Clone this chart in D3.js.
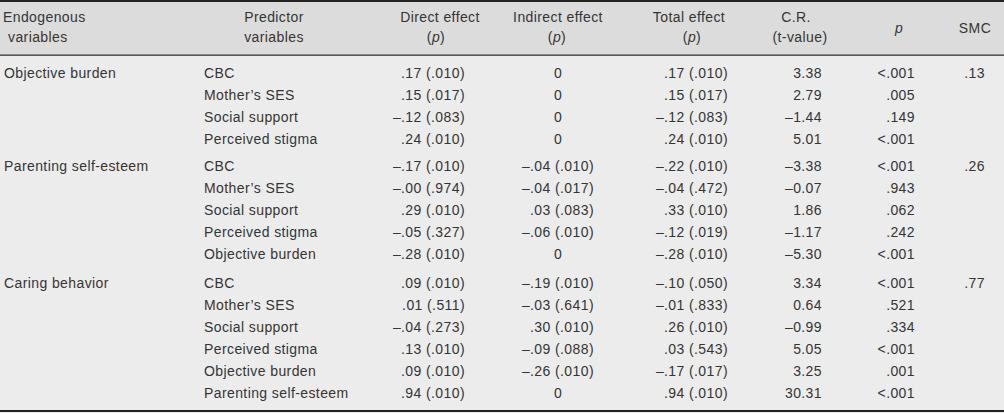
<!DOCTYPE html>
<html>
<head>
<meta charset="utf-8">
<script src="https://cdn.jsdelivr.net/npm/d3@7"></script>
<style>
  html, body { margin: 0; padding: 0; background: #ececec; }
  svg { display: block; }
  text { font-family: 'Liberation Sans', Arial, sans-serif; font-size: 14px; letter-spacing: 0.4px; fill: #353535; }
</style>
</head>
<body>
<svg id="chart" width="1004" height="413"></svg>
<script>
// ---- Data ----
const groups = ["Objective burden", "Parenting self-esteem", "Caring behavior"];
const groupOfRow = [0,0,0,0, 1,1,1,1,1, 2,2,2,2,2,2];
const predictors = [
  "CBC", "Mother’s SES", "Social support", "Perceived stigma",
  "CBC", "Mother’s SES", "Social support", "Perceived stigma", "Objective burden",
  "CBC", "Mother’s SES", "Social support", "Perceived stigma", "Objective burden", "Parenting self-esteem"
];
const directEffect = [
  ".17 (.010)", ".15 (.017)", "–.12 (.083)", ".24 (.010)",
  "–.17 (.010)", "–.00 (.974)", ".29 (.010)", "–.05 (.327)", "–.28 (.010)",
  ".09 (.010)", ".01 (.511)", "–.04 (.273)", ".13 (.010)", ".09 (.010)", ".94 (.010)"
];
const indirectEffect = [
  "0", "0", "0", "0",
  "–.04 (.010)", "–.04 (.017)", ".03 (.083)", "–.06 (.010)", "0",
  "–.19 (.010)", "–.03 (.641)", ".30 (.010)", "–.09 (.088)", "–.26 (.010)", "0"
];
const totalEffect = [
  ".17 (.010)", ".15 (.017)", "–.12 (.083)", ".24 (.010)",
  "–.22 (.010)", "–.04 (.472)", ".33 (.010)", "–.12 (.019)", "–.28 (.010)",
  "–.10 (.050)", "–.01 (.833)", ".26 (.010)", ".03 (.543)", "–.17 (.017)", ".94 (.010)"
];
const crValues = [
  "3.38", "2.79", "–1.44", "5.01",
  "–3.38", "–0.07", "1.86", "–1.17", "–5.30",
  "3.34", "0.64", "–0.99", "5.05", "3.25", "30.31"
];
const pValues = [
  "<.001", ".005", ".149", "<.001",
  "<.001", ".943", ".062", ".242", "<.001",
  "<.001", ".521", ".334", "<.001", ".001", "<.001"
];
const smcValues = [".13", ".26", ".77"];

// ---- Layout ----
const W = 1004, H = 413;
const svg = d3.select("#chart");

svg.append("rect").attr("x", 0).attr("y", 0).attr("width", W).attr("height", 55).attr("fill", "#dcdcdc");
svg.append("rect").attr("x", 0).attr("y", 55).attr("width", W).attr("height", H - 55).attr("fill", "#ececec");

svg.append("rect").attr("x", 0).attr("y", 0).attr("width", W).attr("height", 2).attr("fill", "#222");
svg.append("rect").attr("x", 0).attr("y", 54.5).attr("width", W).attr("height", 1.3).attr("fill", "#333");
svg.append("rect").attr("x", 0).attr("y", 410).attr("width", W).attr("height", 2).attr("fill", "#222");

// row scale
const rowStep = 22;
const groupOffset = [0, 5, 12];
const y = d3.scaleLinear().domain([0, 1]).range([73, 73 + rowStep]);
const rowY = i => y(i) + groupOffset[groupOfRow[i]];
const firstRowOfGroup = groups.map((g, gi) => groupOfRow.indexOf(gi));

const cols = [
  { key: "pred", x: 204, anchor: "start", data: predictors },
  { key: "direct", x: 465, anchor: "end", data: directEffect },
  { key: "indirect", x: 594, anchor: "end", zeroX: 558, data: indirectEffect },
  { key: "total", x: 728, anchor: "end", data: totalEffect },
  { key: "cr", x: 822, anchor: "end", data: crValues },
  { key: "p", x: 915, anchor: "end", data: pValues }
];

const header = svg.append("g");
function htext(x, yy, anchor, parts) {
  const t = header.append("text").attr("x", x).attr("y", yy).attr("text-anchor", anchor).attr("dominant-baseline", "central");
  parts.forEach(p => {
    const s = t.append("tspan").text(p.t);
    if (p.i) s.attr("font-style", "italic");
  });
}
htext(3, 17, "start", [{ t: "Endogenous" }]);
htext(8, 37, "start", [{ t: "variables" }]);
htext(274, 17, "middle", [{ t: "Predictor" }]);
htext(274, 37, "middle", [{ t: "variables" }]);
htext(440, 17, "middle", [{ t: "Direct effect" }]);
htext(436, 37, "middle", [{ t: "(" }, { t: "p", i: true }, { t: ")" }]);
htext(558, 17, "middle", [{ t: "Indirect effect" }]);
htext(557, 37, "middle", [{ t: "(" }, { t: "p", i: true }, { t: ")" }]);
htext(689, 17, "middle", [{ t: "Total effect" }]);
htext(692, 37, "middle", [{ t: "(" }, { t: "p", i: true }, { t: ")" }]);
htext(796, 17, "middle", [{ t: "C.R." }]);
htext(800, 37, "middle", [{ t: "(t-value)" }]);
htext(899, 28, "middle", [{ t: "p", i: true }]);
htext(975, 28, "middle", [{ t: "SMC" }]);

const body = svg.append("g");
body.selectAll("text.grp").data(groups).join("text")
  .attr("class", "grp")
  .attr("x", 4)
  .attr("y", (d, i) => rowY(firstRowOfGroup[i]))
  .attr("dominant-baseline", "central")
  .text(d => d);

body.selectAll("text.smc").data(smcValues).join("text")
  .attr("class", "smc")
  .attr("x", 985)
  .attr("y", (d, i) => rowY(firstRowOfGroup[i]))
  .attr("text-anchor", "end")
  .attr("dominant-baseline", "central")
  .text(d => d);

cols.forEach(c => {
  body.selectAll("text." + c.key).data(c.data).join("text")
    .attr("class", c.key)
    .attr("x", d => (c.zeroX && d === "0") ? c.zeroX : c.x)
    .attr("y", (d, i) => rowY(i))
    .attr("text-anchor", d => (c.zeroX && d === "0") ? "middle" : c.anchor)
    .attr("dominant-baseline", "central")
    .text(d => d);
});
</script>
</body>
</html>
